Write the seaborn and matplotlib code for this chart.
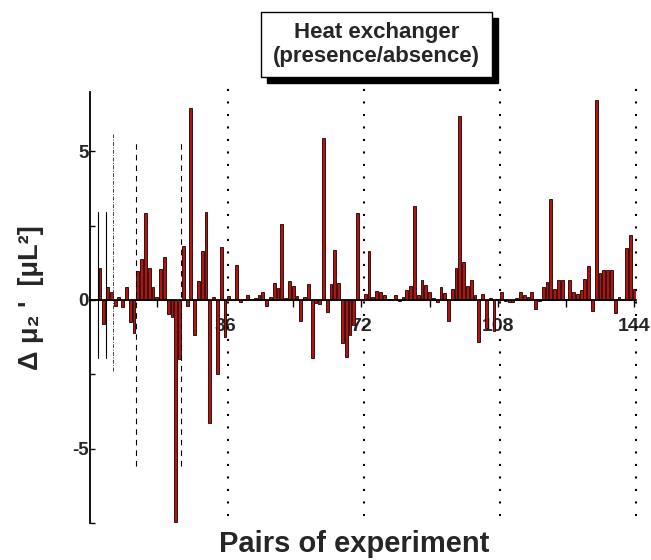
import matplotlib
matplotlib.use("Agg")
import matplotlib.pyplot as plt
import pandas as pd
import seaborn as sns
from matplotlib.patches import Rectangle

# Paired-experiment differences of the second moment, one bar per pair
pairs = list(range(1, 145))
delta_mu2 = [
    0.03, 0.03, 1.07, -0.80, 0.45, 0.26, -0.19, 0.10, -0.24, 0.44,
    -0.74, -1.12, 0.98, 1.36, 2.92, 1.09, 0.44, 0.10, 1.05, 1.45,
    -0.46, -0.56, -7.45, -1.98, 1.80, -0.19, 6.44, -1.18, 0.63, 1.64,
    2.95, -4.14, 0.09, -2.50, 1.78, -1.25, 0.12, 0.02, 1.19, -0.07,
    0.02, 0.18, 0.02, 0.08, 0.17, 0.26, -0.20, 0.10, 0.57, 0.39,
    2.55, 0.08, 0.65, 0.48, 0.13, -0.72, 0.09, 0.53, -1.94, -0.10,
    -0.15, 5.45, -0.41, 0.55, 1.68, 0.56, -1.45, -1.92, -1.17, -0.84,
    2.93, 0.02, 0.19, 1.66, 0.09, 0.31, 0.27, 0.17, 0.02, 0.02,
    0.17, -0.03, 0.10, 0.32, 0.48, 3.15, 0.17, 0.66, 0.50, 0.26,
    0.08, -0.08, 0.45, 0.22, -0.70, 0.37, 1.06, 6.17, 1.28, 0.46,
    0.66, 0.18, -1.42, 0.20, -0.93, 0.06, -1.05, 0.02, 0.27, -0.03,
    -0.08, -0.08, 0.06, 0.27, 0.16, 0.10, 0.28, -0.29, -0.04, 0.42,
    0.59, 3.40, 0.36, 0.66, 0.66, 0.02, 0.66, 0.27, 0.19, 0.35,
    0.70, 1.15, -0.37, 6.70, 0.89, 1.02, 1.02, 1.01, -0.45, 0.11,
    0.02, 1.74, 2.19, 0.38,
]

x_major = [36, 72, 108, 144]
x_minor = [18, 54, 90, 126]
y_major = [-5, 0, 5]
y_minor = [-7.5, -2.5, 2.5]
section_edges = [36.8, 72.8, 108.7, 144.4]
title_text = "Heat exchanger\n(presence/absence)"

sns.set_theme(style="white")
plt.rcParams["font.family"] = ["Liberation Sans", "DejaVu Sans"]
plt.rcParams["font.weight"] = "bold"
plt.rcParams["axes.unicode_minus"] = False

fig = plt.figure(figsize=(6.51, 5.6), dpi=100)
ax = fig.add_axes([0.139, 0.0655, 0.838, 0.771])

df = pd.DataFrame({"pair": pairs, "dmu": delta_mu2})
sns.barplot(data=df, x="pair", y="dmu", native_scale=True, color="#b3140f",
            saturation=1, edgecolor="#1a0000", linewidth=0.6, width=0.75,
            errorbar=None, ax=ax)

ax.set_xlim(0.5, 144.5)
ax.set_ylim(-7.5, 7.0)

# reference lines for the early sub-groups
ax.plot([2.5, 2.5], [-1.95, 2.97], color="black", lw=0.8)
ax.plot([4.5, 4.5], [-1.95, 2.97], color="black", lw=0.8)
ax.plot([6.5, 6.5], [-2.38, 5.56], color="#444444", lw=0.7,
        linestyle=(0, (4, 1.5, 1, 1.5)))
for xv in (12.5, 24.5):
    ax.plot([xv, xv], [-5.56, 5.35], color="black", lw=0.8,
            linestyle=(0, (5, 4.5)))
# section boundaries
for xv in section_edges:
    ax.plot([xv, xv], [-7.25, 7.15], color="black", lw=1.5,
            linestyle=(0, (1, 5)), clip_on=False)

# axes styling
for side in ("top", "right"):
    ax.spines[side].set_visible(False)
ax.spines["bottom"].set_position(("data", 0))
ax.spines["bottom"].set_linewidth(1.3)
ax.spines["left"].set_linewidth(1.3)
ax.spines["bottom"].set_color("black")
ax.spines["left"].set_color("black")

ax.set_xticks(x_major)
ax.set_xticks(x_minor, minor=True)
ax.set_xticklabels([str(v) for v in x_major], fontsize=14, fontweight="bold")
ax.set_yticks(y_major)
ax.set_yticks(y_minor, minor=True)
ax.set_yticklabels([str(v) for v in y_major], fontsize=13.5, fontweight="bold")
ax.tick_params(axis="x", which="both", bottom=True, direction="out",
               length=5, width=1, color="black", pad=8)
ax.tick_params(axis="y", which="both", left=True, direction="in",
               length=3.5, width=1, color="black", pad=1)
ax.set_xlabel("")
ax.set_ylabel("")

fig.text(354 / 651, 1 - 544 / 560, "Pairs of experiment", ha="center",
         va="center", fontsize=21, fontweight="bold")
fig.text(31 / 651, 1 - 298 / 560, "Δ μ₂ '  [μL²]", ha="center", va="center",
         rotation=90, fontsize=19.5, fontweight="bold")

# title box with drop shadow
bx0, bx1 = 260.7 / 651, 491.7 / 651
by0, by1 = 1 - 76.7 / 560, 1 - 11.7 / 560
dx, dy = 6.5 / 651, 6.5 / 560
fig.patches.append(Rectangle((bx0 + dx, by0 - dy), bx1 - bx0, by1 - by0,
                             transform=fig.transFigure, facecolor="black",
                             edgecolor="black", zorder=5))
fig.patches.append(Rectangle((bx0, by0), bx1 - bx0, by1 - by0,
                             transform=fig.transFigure, facecolor="white",
                             edgecolor="black", lw=1, zorder=6))
fig.text((bx0 + bx1) / 2, (by0 + by1) / 2, title_text, ha="center",
         va="center", fontsize=16, fontweight="bold", linespacing=1.2,
         zorder=7)

fig.savefig("out.png", dpi=100)
